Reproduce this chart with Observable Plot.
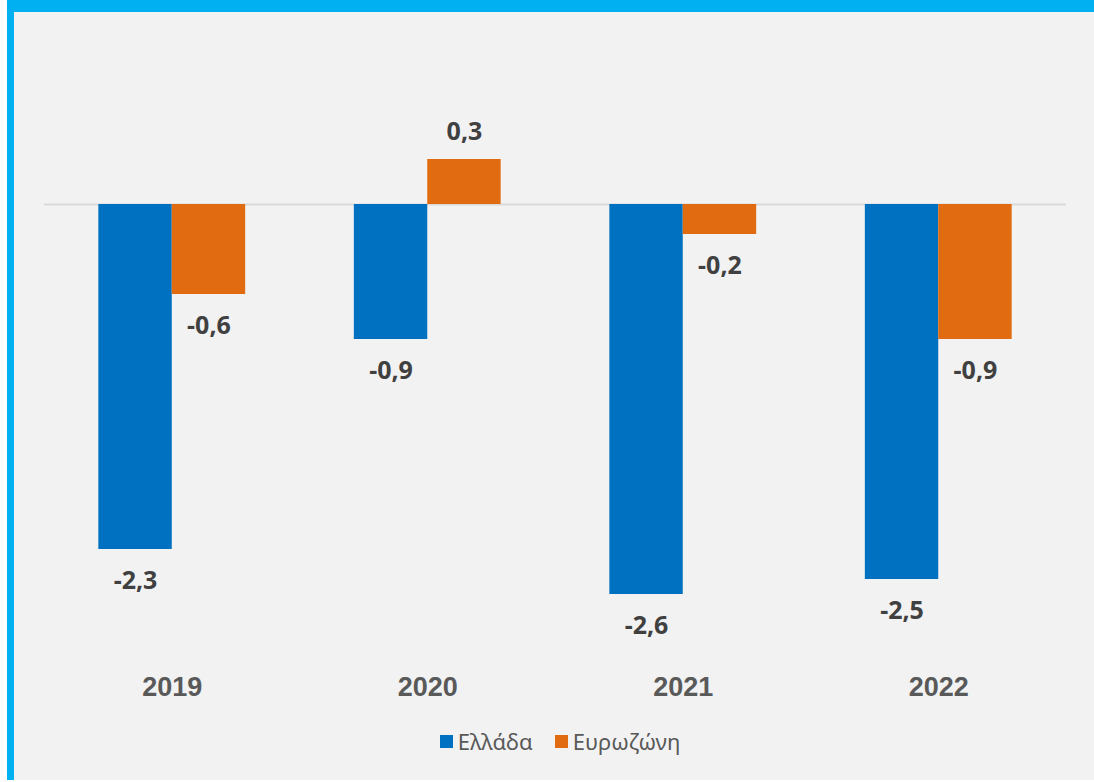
<!DOCTYPE html>
<html>
<head>
<meta charset="utf-8">
<script src="https://cdn.jsdelivr.net/npm/d3@7"></script>
<script src="https://cdn.jsdelivr.net/npm/@observablehq/plot@0.6"></script>
<style>
  html, body { margin: 0; padding: 0; background: #ffffff; }
  body { width: 1094px; height: 782px; position: relative; overflow: hidden; font-family: "Noto Sans", sans-serif; }
  #frame { position: absolute; left: 7px; top: 0; width: 1080px; height: 768px;
           border-top: 12px solid #00b0f0; border-left: 7px solid #00b0f0; background: #f2f2f2; }
  #chart { position: absolute; left: 0; top: 0; }
  #legend { position: absolute; left: 0; top: 714px; width: 1080px; display: flex; justify-content: center;
            gap: 22px; font-size: 22px; color: #595959; padding-left: 12px; box-sizing: border-box; }
  .item { display: flex; align-items: center; gap: 5px; }
  .sw { width: 13px; height: 13px; display: inline-block; }
</style>
</head>
<body>
<div id="frame">
  <div id="chart"></div>
  <div id="legend"></div>
</div>
<script>
const years = ["2019", "2020", "2021", "2022"];
const seriesNames = ["Ελλάδα", "Ευρωζώνη"];
const greece = [-2.3, -0.9, -2.6, -2.5];
const eurozone = [-0.6, 0.3, -0.2, -0.9];
const colors = ["#0070c0", "#e06b10"];

const data = [];
years.forEach((y, i) => {
  data.push({year: y, series: seriesNames[0], value: greece[i]});
  data.push({year: y, series: seriesNames[1], value: eurozone[i]});
});

const fmt = d3.formatLocale({decimal: ",", thousands: ".", grouping: [3], currency: ["", "€"], minus: "-"}).format(".1f");

const labelStyle = {fontSize: 25, fontWeight: "bold", fill: "#404040", lineAnchor: "middle",
  fontFamily: "Noto Sans, sans-serif", letterSpacing: "0.5px"};

const plot = Plot.plot({
  width: 1080,
  height: 700,
  marginTop: 117,
  marginBottom: 58,
  marginLeft: 30,
  marginRight: 28,
  style: {background: "transparent", fontFamily: "Noto Sans, sans-serif"},
  fx: {domain: years, padding: 0, round: false, label: null},
  x: {domain: seriesNames, paddingInner: 0, paddingOuter: 0.74, round: false, axis: null},
  y: {domain: [-3, 0.5], axis: null},
  color: {domain: seriesNames, range: colors},
  marks: [
    Plot.ruleY([0], {stroke: "#d9d9d9", strokeWidth: 2}),
    Plot.barY(data, {fx: "year", x: "series", y: "value", fill: "series"}),
    Plot.text(data.filter(d => d.value < 0), {fx: "year", x: "series", y: "value", text: d => fmt(d.value),
      dy: 31, ...labelStyle}),
    Plot.text(data.filter(d => d.value >= 0), {fx: "year", x: "series", y: "value", text: d => fmt(d.value),
      dy: -28, ...labelStyle}),
    Plot.axisFx({anchor: "bottom", tickSize: 0, tickPadding: 22, fontSize: 27, fontWeight: "bold",
      fontFamily: "Liberation Sans, Arial, sans-serif", color: "#595959", label: null})
  ]
});
document.getElementById("chart").appendChild(plot);

const legend = document.getElementById("legend");
seriesNames.forEach((s, i) => {
  const it = document.createElement("div");
  it.className = "item";
  const sw = document.createElement("span");
  sw.className = "sw";
  sw.style.background = colors[i];
  const t = document.createElement("span");
  t.textContent = s;
  it.appendChild(sw); it.appendChild(t);
  legend.appendChild(it);
});
</script>
</body>
</html>
